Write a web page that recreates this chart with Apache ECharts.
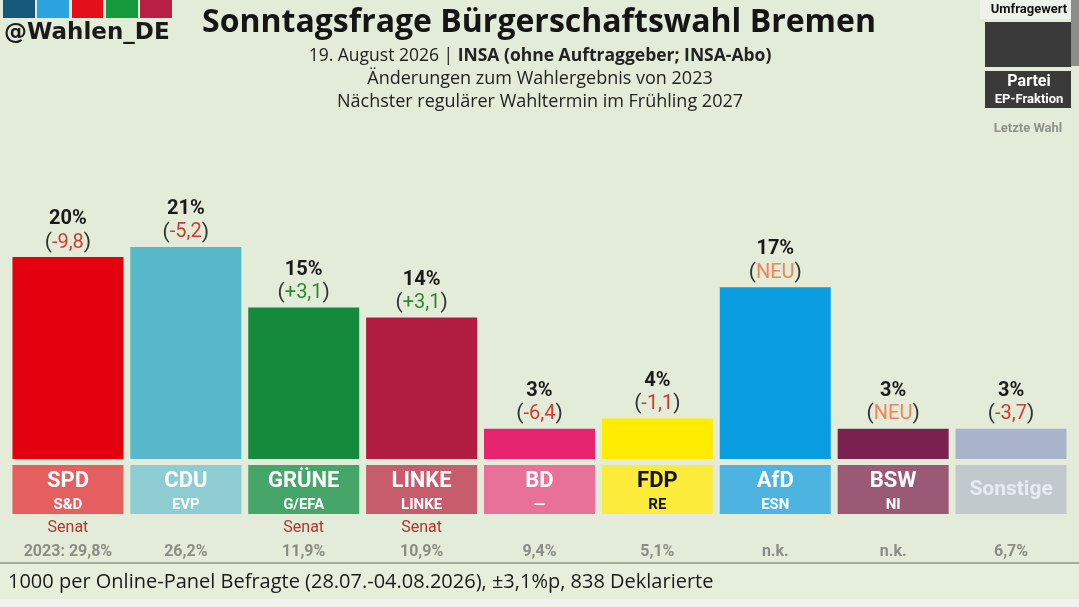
<!DOCTYPE html>
<html><head><meta charset="utf-8">
<script src="https://cdn.jsdelivr.net/npm/echarts@6/dist/echarts.min.js"></script>
<style>html,body{margin:0;padding:0;background:#e2ecd8}#c{width:1079px;height:607px}</style>
</head><body><div id="c"></div>
<script>
const parties = ['SPD','CDU','GRÜNE','LINKE','BD','FDP','AfD','BSW','Sonstige'];
const fractions = ['S&D','EVP','G/EFA','LINKE','—','RE','ESN','NI',''];
const values = [20,21,15,14,3,4,17,3,3];
const changes = ['-9,8','-5,2','+3,1','+3,1','-6,4','-1,1','NEU','NEU','-3,7'];
const senat = ['Senat','','Senat','Senat','','','','',''];
const previous = ['2023: 29,8%','26,2%','11,9%','10,9%','9,4%','5,1%','n.k.','n.k.','6,7%'];
const barColors = ['#e3000f','#56b8c8','#168a3c','#b11c41','#e6246f','#ffec00','#0a9de0','#7a2150','#a9b3c9'];
const boxColors = ['#e55f60','#8dcdd2','#46a66a','#c65c6c','#e8719a','#fbec3c','#4db3e0','#9a5a76','#c1c9cd'];
const boxText = ['#ffffff','#ffffff','#ffffff','#ffffff','#ffffff','#111111','#ffffff','#ffffff','#e8ecee'];

const chart = echarts.init(document.getElementById('c'));
const rich = {
  sen:{fontFamily:'Roboto',fontSize:16,color:'#b8322e',height:28,lineHeight:28,width:111,align:'center',verticalAlign:'bottom'},
  prev:{fontFamily:'Roboto',fontSize:16,fontWeight:'bold',color:'#8a8d86',height:20,lineHeight:20,width:111,align:'center'}
};
parties.forEach((p,i)=>{
  rich['n'+i] = {fontFamily:'Roboto',fontSize:22,fontWeight:'bold',color:boxText[i],backgroundColor:boxColors[i],width:111,height:32,lineHeight:32,align:'center',verticalAlign:'bottom'};
  rich['f'+i] = {fontFamily:'Roboto',fontSize:15,fontWeight:'bold',color:boxText[i],backgroundColor:boxColors[i],width:111,height:17,lineHeight:17,align:'center',verticalAlign:'top'};
  rich['s'+i] = {fontFamily:'Roboto',fontSize:21,fontWeight:'bold',color:boxText[i],backgroundColor:boxColors[i],width:111,height:49,lineHeight:49,align:'center'};
});
function changeColor(c){ if(c==='NEU') return 'neu'; return c[0]==='+'?'pos':'neg'; }

chart.setOption({
  backgroundColor:'#e2ecd8',
  animation:false,
  grid:{left:9,right:9,top:156,bottom:148},
  xAxis:{type:'category',data:parties,axisLine:{show:false},axisTick:{show:false},
    axisLabel:{interval:0,margin:6,verticalAlign:'top',
      formatter:(v,i)=>{
        const top = fractions[i] ? `{n${i}|${v}}\n{f${i}|${fractions[i]}}` : `{s${i}|${v}}`;
        return top + `\n{sen|${senat[i]}}\n{prev|${previous[i]}}`;
      },rich:rich}},
  yAxis:{type:'value',min:0,max:30,show:false,splitLine:{show:false}},
  series:[{type:'bar',barWidth:111,
    data:values.map((v,i)=>({value:v,itemStyle:{color:barColors[i]}})),
    label:{show:true,position:'top',distance:2,
      formatter:(p)=>`{p|${values[p.dataIndex]}%}\n{o|(}{${changeColor(changes[p.dataIndex])}|${changes[p.dataIndex]}}{o|)}`,
      rich:{
        p:{fontFamily:'Roboto',fontSize:20,fontWeight:'bold',color:'#1a1a1a',lineHeight:22,align:'center'},
        o:{fontFamily:'Roboto',fontSize:21,color:'#333',lineHeight:25},
        neg:{fontFamily:'Roboto',fontSize:20,color:'#d23a2e',lineHeight:25},
        pos:{fontFamily:'Roboto',fontSize:20,color:'#2f8a2f',lineHeight:25},
        neu:{fontFamily:'Roboto',fontSize:20,color:'#f08555',lineHeight:25}
      }}}],
  graphic:[
    {type:'rect',shape:{x:3,y:0,width:32,height:18},style:{fill:'#15587a'}},
    {type:'rect',shape:{x:37,y:0,width:32,height:18},style:{fill:'#2aa3e0'}},
    {type:'rect',shape:{x:72,y:0,width:31,height:18},style:{fill:'#e3101c'}},
    {type:'rect',shape:{x:106,y:0,width:32,height:18},style:{fill:'#169a3e'}},
    {type:'rect',shape:{x:140,y:0,width:32,height:18},style:{fill:'#b81f44'}},
    {type:'text',left:4,top:22,style:{text:'@Wahlen_DE',fontFamily:'DejaVu Sans',fontWeight:'bold',fontSize:23,fill:'#1a1a1a'}},
    {type:'text',x:539,y:23,style:{text:'Sonntagsfrage Bürgerschaftswahl Bremen',fontFamily:'Open Sans',fontWeight:'bold',fontSize:32,fill:'#151515',align:'center',verticalAlign:'middle'}},
    {type:'text',x:540,y:56,style:{text:'{a|19. August 2026 | }{b|INSA (ohne Auftraggeber; INSA-Abo)}',align:'center',verticalAlign:'middle',
      rich:{a:{fontFamily:'Open Sans',fontSize:17.5,fill:'#222'},b:{fontFamily:'Open Sans',fontSize:17.5,fontWeight:'bold',fill:'#222'}}}},
    {type:'text',x:540,y:79,style:{text:'Änderungen zum Wahlergebnis von 2023',fontFamily:'Open Sans',fontSize:18,fill:'#222',align:'center',verticalAlign:'middle'}},
    {type:'text',x:540,y:102,style:{text:'Nächster regulärer Wahltermin im Frühling 2027',fontFamily:'Open Sans',fontSize:18,fill:'#222',align:'center',verticalAlign:'middle'}},
    {type:'rect',shape:{x:980,y:0,width:99,height:19},style:{fill:'#eef2ea'}},
    {type:'rect',shape:{x:1071,y:0,width:8,height:66},style:{fill:'#8c8c8c'}},
    {type:'text',x:1029,y:10,style:{text:'Umfragewert',fontFamily:'Roboto',fontWeight:'bold',fontSize:13,fill:'#111',align:'center',verticalAlign:'middle'}},
    {type:'rect',shape:{x:985,y:22,width:86,height:45},style:{fill:'#3a3a3a'}},
    {type:'rect',shape:{x:985,y:71,width:86,height:37},style:{fill:'#3a3a3a'}},
    {type:'text',x:1029,y:82,style:{text:'Partei',fontFamily:'Roboto',fontWeight:'bold',fontSize:16,fill:'#fff',align:'center',verticalAlign:'middle'}},
    {type:'text',x:1029,y:100,style:{text:'EP-Fraktion',fontFamily:'Roboto',fontWeight:'bold',fontSize:13,fill:'#fff',align:'center',verticalAlign:'middle'}},
    {type:'text',x:1028,y:129,style:{text:'Letzte Wahl',fontFamily:'Roboto',fontWeight:'bold',fontSize:13,fill:'#8f948a',align:'center',verticalAlign:'middle'}},
    {type:'rect',shape:{x:0,y:564,width:1079,height:35},style:{fill:'#e6efdc'}},
    {type:'rect',shape:{x:0,y:599,width:1079,height:8},style:{fill:'#f1f4ee'}},
    {type:'line',shape:{x1:0,y1:563,x2:1079,y2:563},style:{stroke:'#a3aa9c',lineWidth:2}},
    {type:'text',x:8,y:582,style:{text:'1000 per Online-Panel Befragte (28.07.-04.08.2026), ±3,1%p, 838 Deklarierte',fontFamily:'Open Sans',fontSize:20,fill:'#1a1a1a',verticalAlign:'middle'}}
  ]
});
</script></body></html>
